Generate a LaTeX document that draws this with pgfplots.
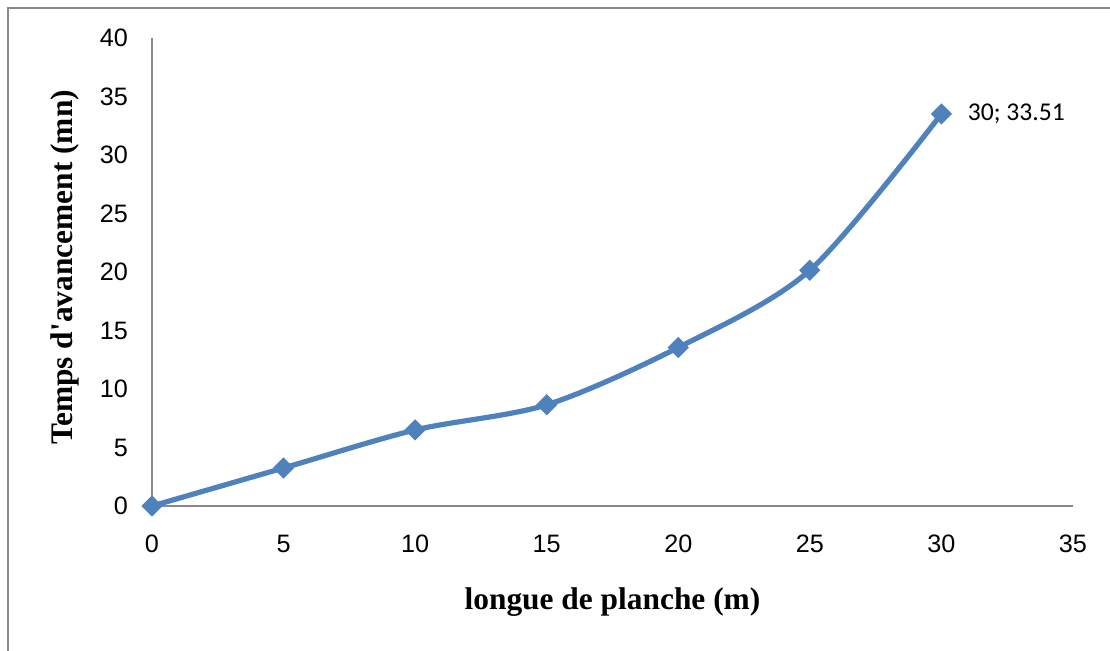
\documentclass[border=0pt]{standalone}
\usepackage{fontspec}
\setmainfont{Liberation Sans}
\newfontfamily\timesfont{Liberation Serif}
\newfontfamily\calibri{Carlito}
\usepackage{pgfplots}
\pgfplotsset{compat=1.18}
\definecolor{xlblue}{HTML}{4F81BD}
\definecolor{axgray}{HTML}{898989}
\begin{document}
\begin{tikzpicture}
\useasboundingbox (-76pt,-72pt) rectangle (479pt,253pt);
\draw[axgray, line width=1.3pt] (-72pt,-80pt) -- (-72pt,249pt) -- (490pt,249pt);
\begin{axis}[
  at={(0,0)}, anchor=origin,
  scale only axis,
  width=460.5pt, height=234pt,
  xmin=0, xmax=35, ymin=0, ymax=40,
  xtick={0,5,...,35}, ytick={0,5,...,40},
  axis x line=bottom, axis y line=left,
  axis line style={axgray, line width=1pt, -},
  major tick length=0pt,
  tick style={draw=none},
  /pgf/number format/assume math mode=true,
  ticklabel style={font=\fontsize{12.6}{14}\selectfont},
  xticklabel style={yshift=-11pt},
  yticklabel style={xshift=-8.5pt},
  xlabel={longue de planche (m)},
  ylabel={Temps d'avancement (mn)},
  xlabel style={at={(axis description cs:0.5,0)}, yshift=-48pt, anchor=center, font=\timesfont\bfseries\fontsize{15.7}{18}\selectfont},
  ylabel style={at={(axis description cs:0,0.51)}, yshift=43.5pt, anchor=center, font=\timesfont\bfseries\fontsize{15.7}{18}\selectfont},
  clip=false,
]
\addplot[xlblue, line width=2.6pt, smooth, tension=0.5, mark=square*, mark size=3.5pt, mark options={rotate=45, solid, fill=xlblue, draw=xlblue, line width=0.5pt}]
  coordinates {(0,0) (5,3.25) (10,6.5) (15,8.65) (20,13.55) (25,20.15) (30,33.51)};
\node[anchor=west, xshift=13pt, font=\calibri\fontsize{12.8}{14}\selectfont, inner sep=0pt] at (axis cs:30,33.51) {30; 33.51};
\end{axis}
\end{tikzpicture}
\end{document}
